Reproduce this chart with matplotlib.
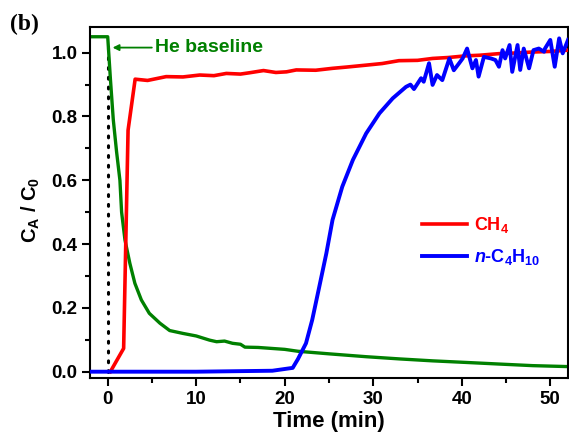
import numpy as np
import matplotlib
matplotlib.use("Agg")
import matplotlib.pyplot as plt
from matplotlib.ticker import MultipleLocator, FormatStrFormatter

plt.rcParams['font.family'] = ['Liberation Sans', 'DejaVu Sans']
plt.rcParams['mathtext.fontset'] = 'custom'
plt.rcParams['mathtext.rm'] = 'Liberation Sans:bold'
plt.rcParams['mathtext.bf'] = 'Liberation Sans:bold'
plt.rcParams['mathtext.it'] = 'Liberation Sans:italic:bold'

# He baseline (green)
he_t = [-2, 0, 0.3, 0.63, 1.0, 1.38, 1.57, 1.95, 2.5, 3.07, 3.8, 4.7, 5.9, 7.0, 8.5, 10.0,
        11.5, 12.3, 13.2, 14.1, 15.0, 15.5, 17.0, 18.5, 20.0, 21.5, 25.0, 29.2, 33.0,
        36.7, 40.5, 44.2, 48.0, 52.0]
he_y = [1.05, 1.05, 0.92, 0.79, 0.69, 0.60, 0.50, 0.413, 0.34, 0.277, 0.225, 0.183, 0.152,
        0.129, 0.12, 0.112, 0.099, 0.094, 0.096, 0.089, 0.086, 0.077, 0.076, 0.073, 0.070,
        0.064, 0.056, 0.047, 0.040, 0.034, 0.029, 0.024, 0.019, 0.016]

# CH4 (red)
ch4_t = [0.3, 1.8, 2.3, 3.1, 4.5, 6.6, 8.5, 10.4, 12.0, 13.4, 15.0, 16.0, 17.6, 19.0, 20.2,
         21.3, 23.5, 25.4, 27.0, 29.2, 31.0, 32.9, 35.0, 36.7, 38.5, 40.4, 42.0, 44.2,
         46.0, 47.9, 50.0, 52.0]
ch4_y = [0.0, 0.073, 0.757, 0.917, 0.913, 0.925, 0.924, 0.93, 0.928, 0.935, 0.933, 0.937,
         0.944, 0.938, 0.94, 0.946, 0.945, 0.951, 0.955, 0.961, 0.966, 0.975, 0.976, 0.982,
         0.985, 0.99, 0.992, 0.997, 0.999, 1.002, 1.004, 1.008]

# n-C4H10 (blue)
but_t = [-2, 10, 18.6, 20.9, 21.5, 22.4, 23.1, 23.9, 24.7, 25.4, 26.5, 27.7, 29.2, 30.7,
         32.2, 33.7, 34.2, 34.6, 35.0, 35.4, 35.7, 36.3, 36.7, 37.2, 37.8, 38.6, 39.1,
         39.7, 40.1, 40.6, 41.2, 41.6, 41.9, 42.5, 43.3, 43.8, 44.2, 44.6, 44.9, 45.4,
         45.7, 46.3, 46.6, 47.0, 47.6, 48.1, 48.7, 49.3, 49.4, 50.0, 50.5, 51.0, 51.4, 52.0]
but_y = [0.0, 0.0, 0.003, 0.012, 0.040, 0.089, 0.162, 0.266, 0.371, 0.476, 0.58, 0.664,
         0.747, 0.81, 0.857, 0.893, 0.90, 0.886, 0.903, 0.92, 0.909, 0.967, 0.899, 0.93,
         0.914, 0.982, 0.945, 0.967, 0.982, 1.013, 0.951, 0.977, 0.925, 0.987, 0.982,
         0.977, 0.956, 1.008, 0.982, 1.024, 0.94, 1.024, 0.946, 1.013, 0.951, 1.008,
         1.013, 1.003, 1.013, 1.04, 0.956, 1.045, 0.998, 1.04]

fig = plt.figure(figsize=(5.69, 4.40), dpi=100)
ax = fig.add_axes([90 / 569, 1 - 378.3 / 440, 478 / 569, 351.6 / 440])

# dotted marker for t = 0
ax.plot([0, 0], [0, 1.035], color='black', linewidth=2.2, linestyle=(0, (0.6, 2.6)),
        dash_capstyle='round', zorder=1)
ax.plot(he_t, he_y, color='#008000', linewidth=2.4, zorder=2)
ax.plot(ch4_t, ch4_y, color='#ff0000', linewidth=2.6, label=r'CH$_\mathbf{4}$', zorder=3)
ax.plot(but_t, but_y, color='#0000ff', linewidth=2.8,
        label=r'$\mathit{n}$-C$_\mathbf{4}$H$_\mathbf{10}$', zorder=4)

ax.annotate('He baseline', xy=(0.55, 1.016), xytext=(5.3, 1.016),
            color='#008000', fontsize=14, fontweight='bold', va='center',
            arrowprops=dict(arrowstyle='-|>', color='#008000', lw=1.3,
                            mutation_scale=9, shrinkA=0, shrinkB=0))

ax.set_xlim(-2, 52)
ax.set_ylim(-0.0207, 1.0815)
ax.xaxis.set_major_locator(MultipleLocator(10))
ax.xaxis.set_minor_locator(MultipleLocator(5))
ax.yaxis.set_major_locator(MultipleLocator(0.2))
ax.yaxis.set_minor_locator(MultipleLocator(0.1))
ax.yaxis.set_major_formatter(FormatStrFormatter('%.1f'))
ax.tick_params(which='both', direction='out', width=1.5, top=False, right=False)
ax.tick_params(which='major', length=5.5, labelsize=13.5)
ax.tick_params(which='minor', length=3.5)
for lab in ax.get_xticklabels() + ax.get_yticklabels():
    lab.set_fontweight('bold')
for spine in ax.spines.values():
    spine.set_linewidth(1.5)

ax.set_xlabel('Time (min)', fontsize=16, fontweight='bold', labelpad=2)
ax.set_ylabel(r'C$_\mathbf{A}$ / C$_\mathbf{0}$', fontsize=14.5, fontweight='bold')
ax.yaxis.set_label_coords(-0.1, 0.48)

leg = ax.legend(loc='upper left', bbox_to_anchor=(0.66, 0.51), frameon=False,
                handlelength=2.5, handletextpad=0.4, labelspacing=0.65,
                prop={'weight': 'bold', 'size': 13})
for text, line in zip(leg.get_texts(), leg.get_lines()):
    text.set_color(line.get_color())

fig.text(10 / 569, 1 - 24 / 440, '(b)', fontsize=17, fontweight='bold',
         family='Liberation Serif', va='center', ha='left')

fig.savefig('out.png', dpi=100)
